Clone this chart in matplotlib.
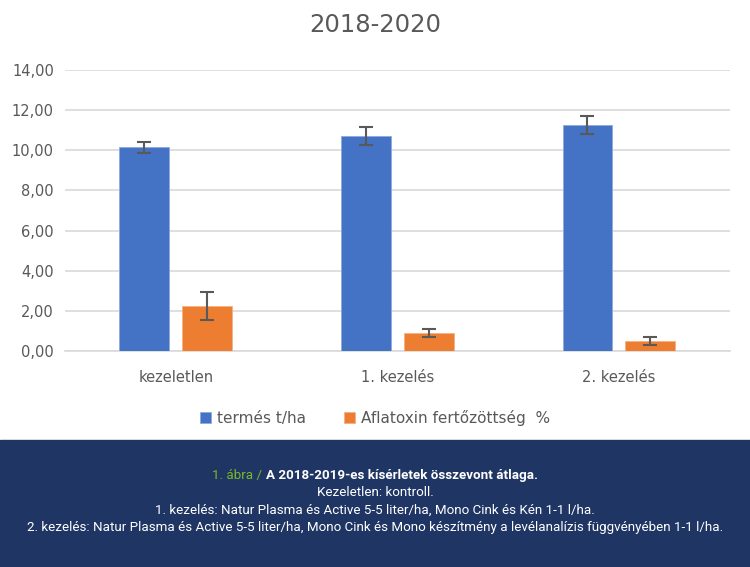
import matplotlib.pyplot as plt
import numpy as np

# adatok
kategoriak = ['kezeletlen', '1. kezelés', '2. kezelés']
termes = [10.15, 10.72, 11.27]
termes_hiba = [0.28, 0.45, 0.45]
aflatoxin = [2.24, 0.9, 0.5]
aflatoxin_hiba = [0.68, 0.2, 0.2]
y_tickek = [0, 2, 4, 6, 8, 10, 12, 14]

kek = '#4472c4'
narancs = '#ed7d31'
szurke = '#595959'

fig = plt.figure(figsize=(7.5, 5.67), dpi=100)
ax = fig.add_axes([0.0867, 0.381, 0.8863, 0.4955])

x = np.arange(len(kategoriak))
w = 0.225
ax.bar(x - 0.142, termes, w, color=kek, edgecolor='#8faadc', linewidth=0.6, zorder=3,
       label='termés t/ha')
ax.bar(x + 0.142, aflatoxin, w, color=narancs, edgecolor='#f4b183', linewidth=0.6, zorder=3,
       label='Aflatoxin fertőzöttség  %')
ax.errorbar(x - 0.142, termes, yerr=termes_hiba, fmt='none', ecolor=szurke,
            elinewidth=1.5, capsize=5, capthick=1.5, zorder=4)
ax.errorbar(x + 0.142, aflatoxin, yerr=aflatoxin_hiba, fmt='none', ecolor=szurke,
            elinewidth=1.5, capsize=5, capthick=1.5, zorder=4)

ax.set_xlim(-0.5, 2.5)
ax.set_ylim(0, 14)
ax.set_yticks(y_tickek)
ax.set_yticklabels([f'{v:.2f}'.replace('.', ',') for v in y_tickek])
ax.set_xticks(x)
ax.set_xticklabels(kategoriak)
ax.grid(axis='y', color='#d9d9d9', linewidth=1.2, zorder=0)
for s in ['top', 'right', 'left']:
    ax.spines[s].set_visible(False)
ax.spines['bottom'].set_color('#d9d9d9')
ax.spines['bottom'].set_linewidth(1.2)
ax.tick_params(axis='both', length=0, labelsize=10.5, labelcolor=szurke, pad=8)
ax.tick_params(axis='x', pad=14)

fig.text(0.5, 1 - 25 / 567, '2018-2020', ha='center', va='center', fontsize=17.5, color=szurke)

fig.legend(loc='center', bbox_to_anchor=(0.5, 1 - 418 / 567), ncol=2, frameon=False,
           fontsize=11, labelcolor=szurke, handlelength=0.7, handleheight=0.7,
           columnspacing=2.5, handletextpad=0.4)

# alsó sáv
fig.patches.append(plt.Rectangle((0, 0), 1, 1 - 440 / 567, transform=fig.transFigure,
                                 color='#1f3564', zorder=0))

fonts = ['Roboto', 'DejaVu Sans']
fm = 9.6
sorok = ['Kezeletlen: kontroll.',
         '1. kezelés: Natur Plasma és Active 5-5 liter/ha, Mono Cink és Kén 1-1 l/ha.',
         '2. kezelés: Natur Plasma és Active 5-5 liter/ha, Mono Cink és Mono készítmény a levélanalízis függvényében 1-1 l/ha.']
sor_y = [493, 510, 528]
for s, yy in zip(sorok, sor_y):
    fig.text(0.5, 1 - yy / 567, s, ha='center', va='center', fontsize=fm,
             color='white', family=fonts)

t1 = fig.text(0, 1 - 475 / 567, '1. ábra / ', ha='left', va='center', fontsize=fm,
              color='#7ab829', family=fonts)
t2 = fig.text(0, 1 - 475 / 567, 'A 2018-2019-es kísérletek összevont átlaga.', ha='left',
              va='center', fontsize=fm, color='white', weight='bold', family=fonts)
r = fig.canvas.get_renderer()
w1 = t1.get_window_extent(r).width / fig.bbox.width
w2 = t2.get_window_extent(r).width / fig.bbox.width
start = 0.5 - (w1 + w2) / 2
t1.set_x(start)
t2.set_x(start + w1)

fig.savefig('out.png', dpi=100)
